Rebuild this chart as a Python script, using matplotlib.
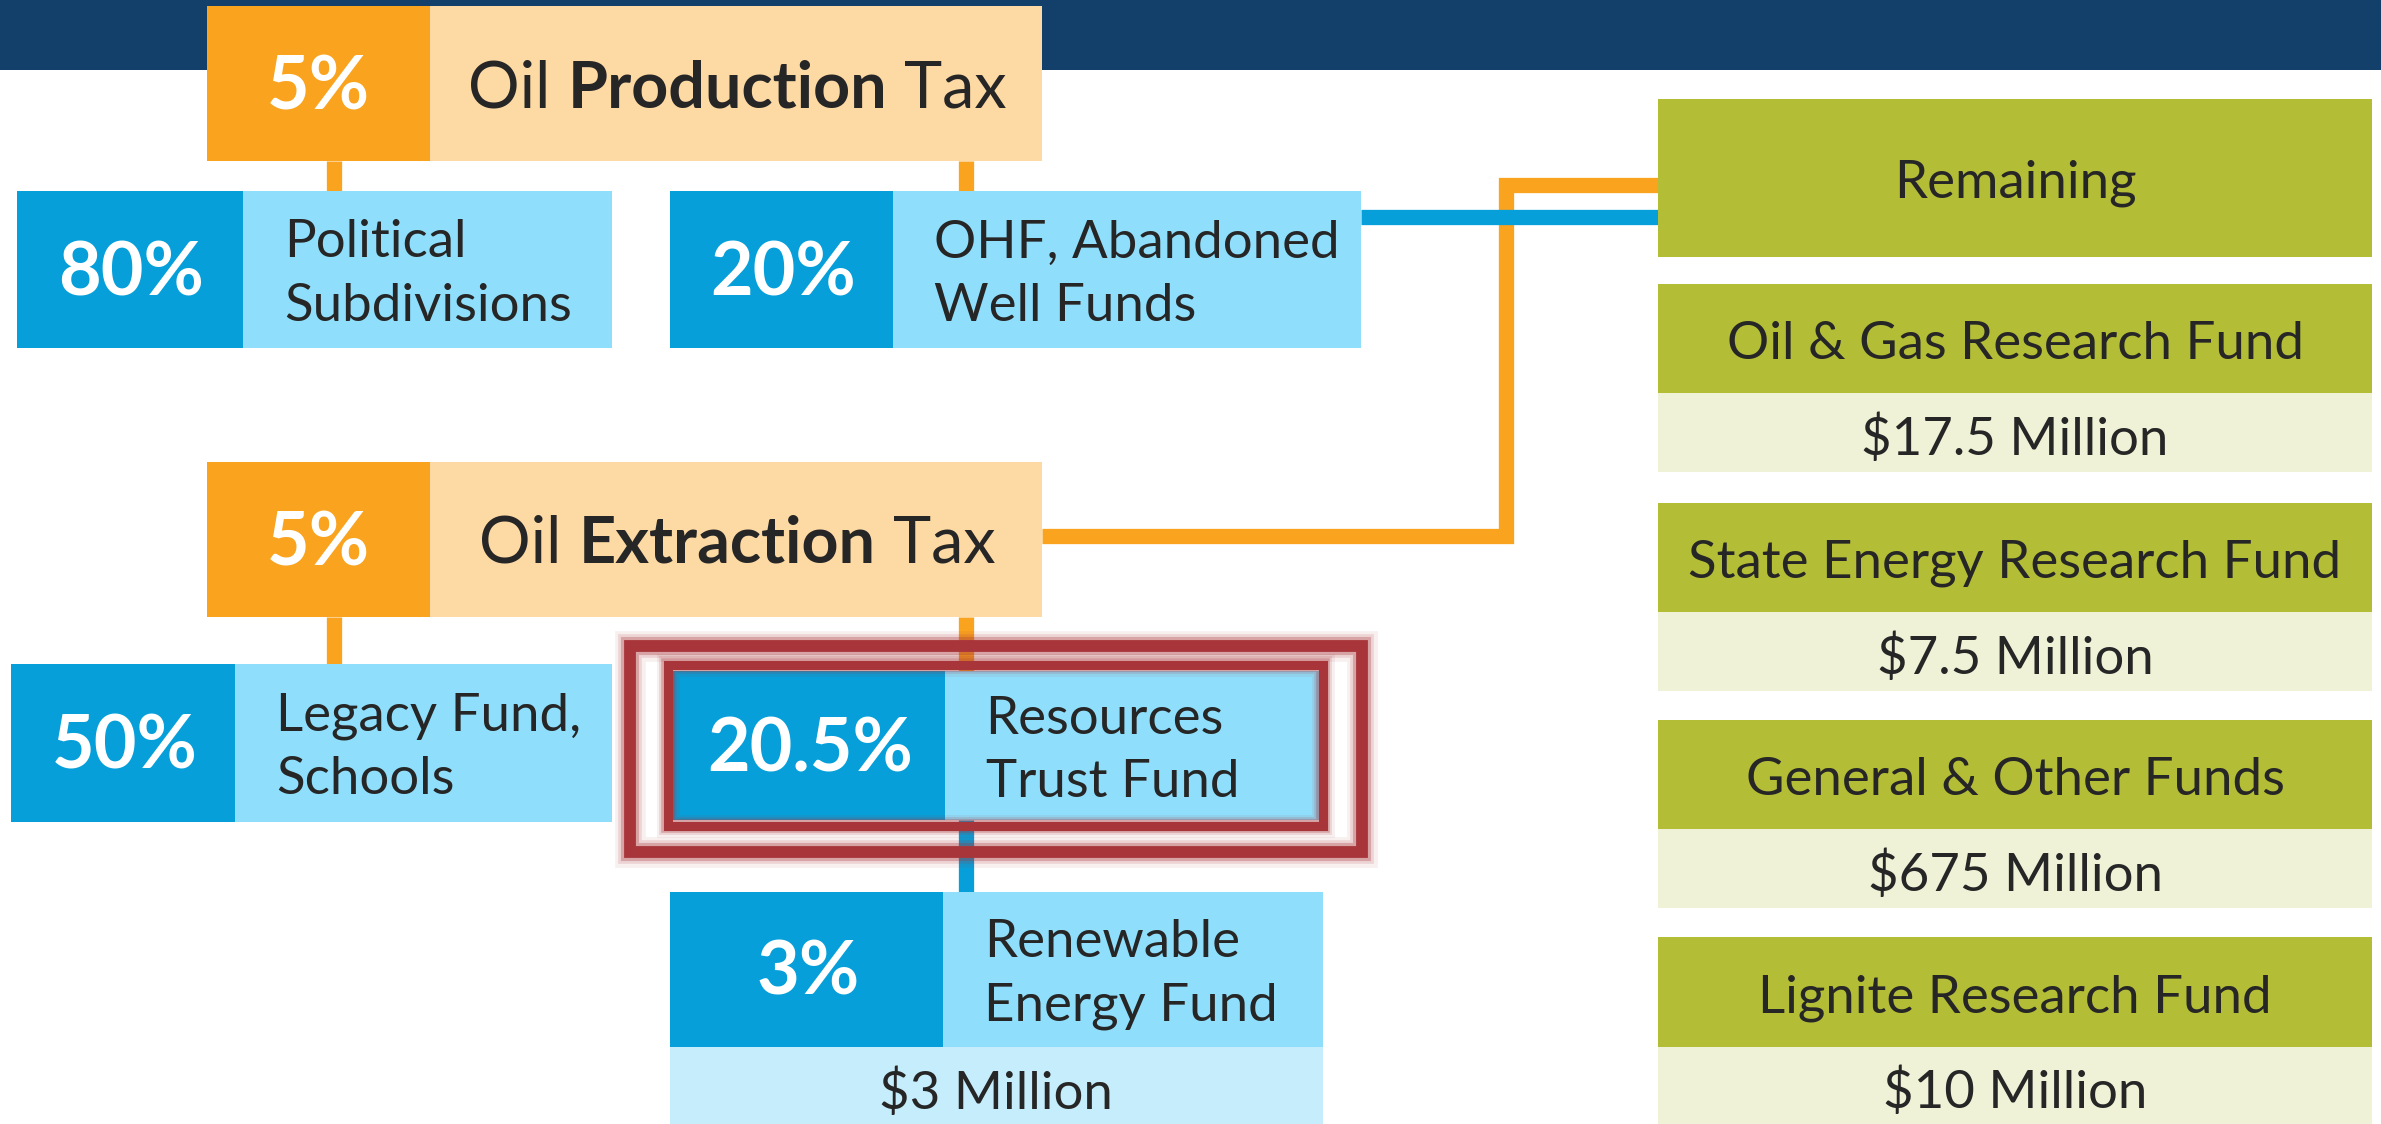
import matplotlib
matplotlib.use('Agg')
import matplotlib.pyplot as plt
from matplotlib.patches import Rectangle

plt.rcParams['font.family'] = ['Lato', 'DejaVu Sans']

# ---- data ----
tax_pcts = ['5%', '5%']
tax_names = [('Oil', 'Production', 'Tax'), ('Oil', 'Extraction', 'Tax')]
split_pcts = ['80%', '20%', '50%', '20.5%', '3%']
split_names = [['Political', 'Subdivisions'],
               ['OHF, Abandoned', 'Well Funds'],
               ['Legacy Fund,', 'Schools'],
               ['Resources', 'Trust Fund'],
               ['Renewable', 'Energy Fund']]
renewable_amount = '$3 Million'
remaining_label = 'Remaining'
fund_names = ['Oil & Gas Research Fund', 'State Energy Research Fund',
              'General & Other Funds', 'Lignite Research Fund']
fund_amounts = ['$17.5 Million', '$7.5 Million', '$675 Million', '$10 Million']

# ---- colours ----
NAVY = '#12406a'
ORANGE = '#f9a31f'
ORANGE_L = '#fdd9a4'
BLUE = '#069fd9'
BLUE_L = '#8fdffc'
BLUE_LL = '#c6edfb'
OLIVE = '#b3bd35'
OLIVE_L = '#eff2d6'
RED = '#a8353a'
TXT = '#262626'

W, H = 1568, 740
fig = plt.figure(figsize=(23.81, 11.24), dpi=100)
ax = fig.add_axes([0, 0, 1, 1])
ax.set_xlim(0, W)
ax.set_ylim(H, 0)
ax.axis('off')

PX = fig.get_figwidth() * fig.dpi / W  # pixels per unit

LBL = 38   # label font size (pt)
PCT = 53
TTL = 46.5


def box(x0, x1, y0, y1, color, z=2):
    ax.add_patch(Rectangle((x0, y0), x1 - x0, y1 - y0, facecolor=color,
                           edgecolor='none', zorder=z))


def line(xs, ys, color, z=1, lw=11):
    ax.plot(xs, ys, color=color, lw=lw, solid_capstyle='butt',
            solid_joinstyle='miter', zorder=z)


# header band
box(0, W, 0, 46, NAVY, z=0)

# connector lines
line([220, 220], [106, 126], ORANGE)
line([636, 636], [106, 126], ORANGE)
line([220, 220], [406, 437], ORANGE)
line([636, 636], [406, 442], ORANGE)
line([636, 636], [540, 587], BLUE)
line([686, 992, 992, 1092], [353, 353, 122, 122], ORANGE)
line([896, 1092], [143, 143], BLUE, z=1.5)

# tax boxes
tax_geom = [(136, 283, 686, 4, 106), (136, 283, 686, 304, 406)]
renderer = fig.canvas.get_renderer()
for (x0, xs, x1, y0, y1), pct, parts in zip(tax_geom, tax_pcts, tax_names):
    box(x0, xs, y0, y1, ORANGE)
    box(xs, x1, y0, y1, ORANGE_L)
    c = (y0 + y1) / 2
    ax.text((x0 + xs) / 2, c + 17, pct, color='white', fontsize=PCT,
            fontweight='bold', ha='center', va='baseline', zorder=5)
    ts = []
    for s, w in zip(parts, ['normal', 'bold', 'normal']):
        ts.append(ax.text(0, c + 15.5, s, color=TXT, fontsize=TTL, fontweight=w,
                          ha='left', va='baseline', zorder=5))
    widths = [t.get_window_extent(renderer).width / PX for t in ts]
    gap = 0.27 * TTL / 0.72 / PX
    total = sum(widths) + 2 * gap
    x = (xs + x1) / 2 - total / 2 + 1
    for t, wd in zip(ts, widths):
        t.set_x(x)
        x += wd + gap

# split boxes
split_geom = [(11, 160, 403, 126, 229), (441, 588, 896, 126, 229),
              (7, 155, 403, 437, 541), (443, 622, 869, 442, 540),
              (441, 621, 871, 587, 689)]
for (x0, xs, x1, y0, y1), pct, names in zip(split_geom, split_pcts, split_names):
    box(x0, xs, y0, y1, BLUE)
    box(xs, x1, y0, y1, BLUE_L)
    c = (y0 + y1) / 2
    ax.text((x0 + xs) / 2 + 1, c + 17, pct, color='white', fontsize=PCT,
            fontweight='bold', ha='center', va='baseline', zorder=5)
    ax.text(xs + 27, c - 8, names[0], color=TXT, fontsize=LBL,
            ha='left', va='baseline', zorder=5)
    ax.text(xs + 27, c + 34, names[1], color=TXT, fontsize=LBL,
            ha='left', va='baseline', zorder=5)

# renewable amount
box(441, 871, 689, 740, BLUE_LL)
ax.text(656, 730, renewable_amount, color=TXT, fontsize=LBL,
        ha='center', va='baseline', zorder=5)

# highlight frames around Resources Trust Fund
for lw, a in [(22, 0.08), (17, 0.15), (13, 0.3)]:
    ax.add_patch(Rectangle((415, 425), 482, 136, fill=False, edgecolor=RED,
                           lw=lw, alpha=a, zorder=3))
    ax.add_patch(Rectangle((440, 438), 431, 106, fill=False, edgecolor=RED,
                           lw=lw * 0.75, alpha=a, zorder=3))
ax.add_patch(Rectangle((415, 425), 482, 136, fill=False, edgecolor=RED,
                       lw=8.5, zorder=4))
ax.add_patch(Rectangle((440, 438), 431, 106, fill=False, edgecolor=RED,
                       lw=6.5, zorder=4))

# right column
RX0, RX1 = 1092, 1562
RC = (RX0 + RX1) / 2
box(RX0, RX1, 65, 169, OLIVE)
ax.text(RC, 117 + 13, remaining_label, color=TXT, fontsize=LBL,
        ha='center', va='baseline', zorder=5)
fund_tops = [187, 331, 474, 617]
for top, name, amt in zip(fund_tops, fund_names, fund_amounts):
    box(RX0, RX1, top, top + 72, OLIVE)
    box(RX0, RX1, top + 72, top + 124, OLIVE_L)
    ax.text(RC, top + 36 + 13.5, name, color=TXT, fontsize=LBL,
            ha='center', va='baseline', zorder=5)
    ax.text(RC, top + 98 + 14.5, amt, color=TXT, fontsize=LBL,
            ha='center', va='baseline', zorder=5)

fig.savefig('out.png', dpi=100)
